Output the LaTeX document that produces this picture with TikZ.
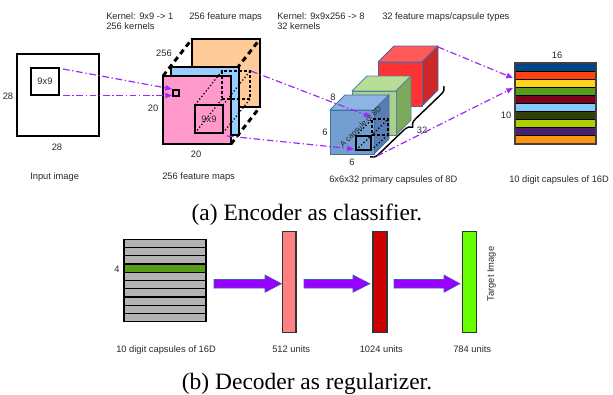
\documentclass[tikz,border=0pt]{standalone}
\usepackage{fontspec}
\setmainfont{Liberation Sans}
\newfontfamily\capfont{Liberation Serif}
\usetikzlibrary{arrows.meta,decorations.pathreplacing,calc}
\pgfdeclarelayer{back}
\pgfdeclarelayer{mid}
\pgfsetlayers{back,mid,main}
\definecolor{txt}{RGB}{40,40,40}
\definecolor{pv}{RGB}{160,40,250}
\definecolor{pvfill}{RGB}{153,0,255}
\definecolor{arrblue}{RGB}{52,101,164}
\definecolor{pinkL}{RGB}{255,153,204}
\definecolor{blueL}{RGB}{153,204,255}
\definecolor{orangeL}{RGB}{255,204,153}
\definecolor{cbF}{RGB}{114,159,207}
\definecolor{cbT}{RGB}{142,180,227}
\definecolor{cbS}{RGB}{88,125,178}
\definecolor{cbE}{RGB}{65,113,156}
\definecolor{cgF}{RGB}{169,209,142}
\definecolor{cgT}{RGB}{184,222,150}
\definecolor{cgS}{RGB}{126,168,92}
\definecolor{cgE}{RGB}{90,130,150}
\definecolor{crF}{RGB}{255,51,51}
\definecolor{crT}{RGB}{255,90,90}
\definecolor{crS}{RGB}{205,40,40}
\definecolor{crE}{RGB}{80,100,160}
\definecolor{d0}{HTML}{004586}
\definecolor{d1}{HTML}{FF420E}
\definecolor{d2}{HTML}{FFD320}
\definecolor{d3}{HTML}{579D1C}
\definecolor{d4}{HTML}{7E0021}
\definecolor{d5}{HTML}{83CAFF}
\definecolor{d6}{HTML}{314004}
\definecolor{d7}{HTML}{AECF00}
\definecolor{d8}{HTML}{4B1F6F}
\definecolor{d9}{HTML}{FF950E}
\definecolor{grayS}{HTML}{B3B3B3}
\definecolor{barA}{HTML}{FF8080}
\definecolor{barB}{HTML}{CC0000}
\definecolor{barC}{HTML}{66FF00}
\newcommand\drawcube[9]{%
  \filldraw[fill=#7,draw=#9,line width=0.6pt,line join=round] (#2,#3) -- ++(#5,-#5) -- ++(#4,0) -- ++(-#5,#5) -- cycle;
  \filldraw[fill=#8,draw=#9,line width=0.6pt,line join=round] (#2+#4,#3) -- ++(#5,-#5) -- ++(0,#4) -- ++(-#5,#5) -- cycle;
  \filldraw[fill=#6,draw=#9,line width=0.6pt] (#2,#3) rectangle ++(#4,#4);
  \coordinate (#1-btr) at (#2+#4+#5,#3-#5);
  \coordinate (#1-fbr) at (#2+#4,#3+#4);
}
\newcommand\blockarr[3]{%
  \filldraw[fill=pvfill,draw=arrblue,line width=0.4pt,line join=miter]
    (#1,279.5) -- (#2,279.5) -- (#2,275) -- (#3,283.7) -- (#2,292.3) -- (#2,288) -- (#1,288) -- cycle;
}
\begin{document}
\begin{tikzpicture}[x=0.75pt,y=-0.75pt,
  lbl/.style={font=\fontsize{7}{8}\selectfont, text=txt, inner sep=0pt},
  small/.style={font=\fontsize{5.8}{6}\selectfont, text=txt, inner sep=0pt},
  capt/.style={font=\capfont\fontsize{17.6}{20}\selectfont, inner sep=0pt, anchor=base},
  pline/.style={draw=pv, line width=0.9pt, dash pattern=on 5pt off 2pt on 1pt off 2pt,
    -{Triangle[length=5pt,width=4pt]}},
  fmap/.style={draw, line width=2.2pt, minimum size=51pt, inner sep=0pt, outer sep=0pt},
  thickdash/.style={line width=2.2pt, dash pattern=on 4pt off 3pt},
  thinbox/.style={draw, line width=0.8pt, inner sep=0pt, outer sep=0pt},
  dotline/.style={line width=0.9pt, dash pattern=on 1pt off 1.6pt},
  bar/.style={draw=black!80, line width=1.1pt, minimum width=10.3pt, minimum height=75.5pt, inner sep=0pt}]
\useasboundingbox (0,0) rectangle (613,394);

% ---------- headings ----------
\node[lbl, anchor=base west] (h1) at (106,19) {Kernel: 9x9 -> 1};
\node[lbl, anchor=base west] (h2) at (106,29) {256 kernels};
\node[lbl, anchor=base west] (h3) at (189,19) {256 feature maps};
\node[lbl, anchor=base west] (h4) at (277,19) {Kernel: 9x9x256 -> 8};
\node[lbl, anchor=base west] (h5) at (277,29) {32 kernels};
\node[lbl, anchor=base west] (h6) at (382,19) {32 feature maps/capsule types};

% ---------- input image ----------
\node[draw, line width=1.9pt, minimum size=61.5pt, inner sep=0pt] (inimg) at (58,95) {};
\node[thinbox, lbl, minimum width=21pt, minimum height=20.25pt] (k9a) at (45,81.5) {9x9};
\node[lbl, anchor=base] (l28a) at (8,99) {28};
\node[lbl, anchor=base] (l28b) at (57,150) {28};
\node[lbl, anchor=base west] (linp) at (30,179.5) {Input image};

% ---------- 256 feature maps ----------
\begin{pgfonlayer}{mid}
\node[fmap, fill=blueL] (fb) at (205,101) {};
\end{pgfonlayer}
\node[fmap, fill=pinkL] (fp) at (197,110) {};
\begin{pgfonlayer}{back}
\node[fmap, fill=orangeL] (fo) at (226,73) {};
\draw[thickdash] (fp.north west) -- (fo.north west);
\draw[thickdash] (fp.north east) -- (fo.north east);
\draw[thickdash] (fp.south east) -- (fo.south east);
\end{pgfonlayer}
\node[thinbox, lbl, minimum size=21pt] (kp) at (209,119) {9x9};
\node[draw, line width=0.8pt, dash pattern=on 2.2pt off 1.5pt, minimum size=21pt, inner sep=0pt, outer sep=0pt] (kb) at (236,85) {};
\draw[dotline] (kp.north west) -- (kb.north west);
\draw[dotline] (kp.north east) -- (kb.north east);
\draw[dotline] (kp.south west) -- (kb.south west);
\draw[dotline] (kp.south east) -- (kb.south east);
\node[thinbox, minimum size=4.5pt] (px) at (176,93) {};
\node[lbl, anchor=base] (l256) at (164,56) {256};
\node[lbl, anchor=base] (l20a) at (153,111.5) {20};
\node[lbl, anchor=base] (l20b) at (196,157.5) {20};
\node[lbl, anchor=base west] (lfm) at (162,179.5) {256 feature maps};

\draw[pline] ($(k9a.north east)+(4,1)$) -- ($(px.north west)+(-1,-1)$);
\draw[pline] ($(k9a.south east)+(4,0.5)$) -- ($(px.south west)+(-1,-0.5)$);

% ---------- primary capsules ----------
\drawcube{rc}{378}{62}{44}{16}{crF}{crT}{crS}{crE}
\drawcube{gc}{352}{91}{44}{15}{cgF}{cgT}{cgS}{cgE}
\drawcube{bc}{330}{110}{44}{15}{cbF}{cbT}{cbS}{cbE}
\node[draw, line width=1.3pt, minimum width=11.25pt, minimum height=10.5pt, inner sep=0pt, outer sep=0pt] (cf) at (363.5,143) {};
\node[draw, line width=0.8pt, dash pattern=on 2.2pt off 1.5pt, minimum size=12pt, inner sep=0pt, outer sep=0pt] (cb) at (380,127) {};
\draw[dotline] (cf.north west) -- (cb.north west);
\draw[dotline] (cf.north east) -- (cb.north east);
\draw[dotline] (cf.south west) -- (cb.south west);
\draw[dotline] (cf.south east) -- (cb.south east);
\node[small, rotate=45] (lcap) at (361,127) {A capsule of 8D};
\draw[decorate, decoration={brace, amplitude=6pt}, line width=1.1pt] (444,86) coordinate (brA) -- (370,157) coordinate (brB);
\node[lbl, anchor=base] (l8) at (333,100.5) {8};
\node[lbl, anchor=base] (l6a) at (325,135.5) {6};
\node[lbl, anchor=base] (l6b) at (352,165.5) {6};
\node[lbl, anchor=base] (l32) at (422,133) {32};
\node[lbl, anchor=base west] (lpc) at (329,182.5) {6x6x32 primary capsules of 8D};

\draw[pline] ($(kb.north east)+(1,0)$) -- ($(cb.north west)+(-1,-2)$);
\draw[pline] ($(kp.south east)+(4,3)$) -- ($(cf.south west)+(-2,-1)$);

% ---------- digit capsules ----------
\foreach \c [count=\i from 0] in {d0,d1,d2,d3,d4,d5,d6,d7,d8,d9}
  \draw[fill=\c, line width=0.8pt] (515,63+8.1*\i) rectangle ++(81,8.1);
\node[draw=black!75, line width=0.8pt, minimum size=60.75pt, inner sep=0pt, outer sep=0pt] (dc) at (555.5,103.5) {};
\node[lbl, anchor=base] (l16) at (557,58.5) {16};
\node[lbl, anchor=base] (l10) at (506,118.5) {10};
\node[lbl, anchor=base west] (ldc) at (509,182.5) {10 digit capsules of 16D};

\draw[pline] ($(rc-btr)+(0,1)$) -- ($(dc.north west)+(-2,15)$);
\draw[pline] ($(bc-fbr)+(3,2)$) -- ($(dc.north west)+(-2,25)$);

\node[capt] (capA) at (307,220.5) {(a) Encoder as classifier.};

% ---------- decoder ----------
\foreach \i in {0,...,9}
  \draw[fill=grayS, line width=0.8pt] (124,239.3+8.24*\i) rectangle ++(82,8.24);
\draw[fill=d3, line width=0.8pt] (124,239.3+8.24*3) rectangle ++(82,8.24);
\node[minimum width=61.5pt, minimum height=61.8pt, inner sep=0pt, outer sep=0pt] (gb) at (165,280.5) {};
\node[lbl, anchor=base] (l4) at (117,272.5) {4};

\node[bar, fill=barA] (b1) at (289.2,282) {};
\node[bar, fill=barB] (b2) at (379.9,282) {};
\node[bar, fill=barC] (b3) at (469.5,282) {};
\blockarr{214}{265}{281.5}
\blockarr{304}{353}{370}
\blockarr{394}{444}{460}

\node[lbl, anchor=base west] (ldc2) at (116,352.5) {10 digit capsules of 16D};
\node[lbl, anchor=base west] (lu1) at (272,352.5) {512 units};
\node[lbl, anchor=base west] (lu2) at (359.5,352.5) {1024 units};
\node[lbl, anchor=base west] (lu3) at (453,352.5) {784 units};
\node[lbl, rotate=90] (ltgt) at (491.7,274) {Target Image};

\node[capt] (capB) at (307,389) {(b) Decoder as regularizer.};
\end{tikzpicture}
\end{document}
